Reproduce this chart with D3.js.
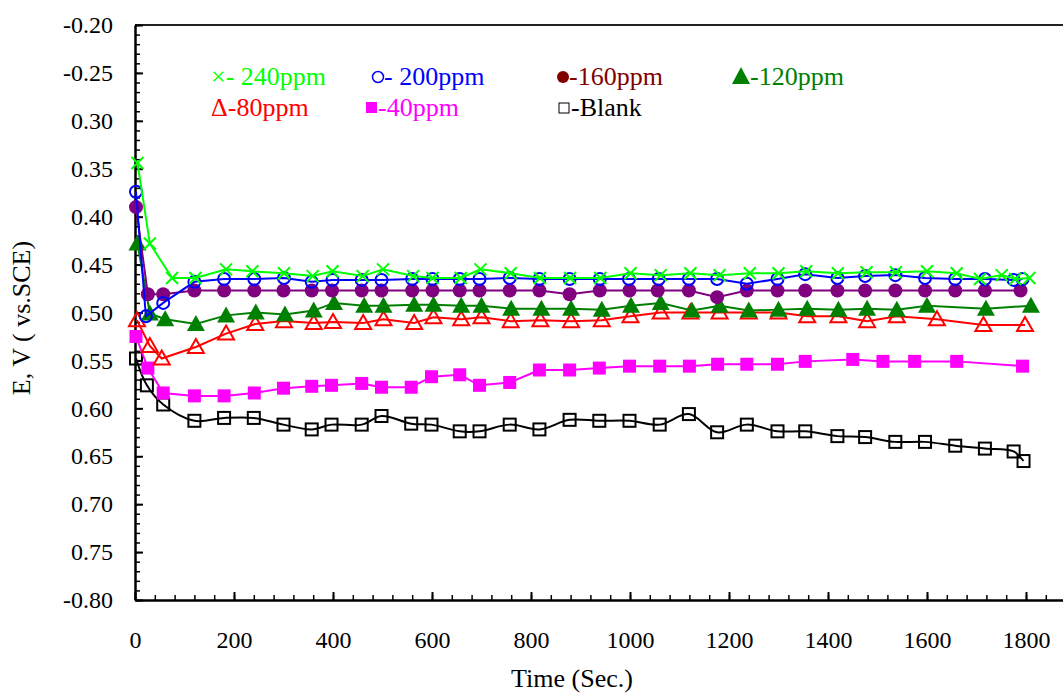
<!DOCTYPE html>
<html>
<head>
<meta charset="utf-8">
<script src="https://cdn.jsdelivr.net/npm/d3@7"></script>
<style>
  body { margin: 0; background: #fff; }
  svg text { font-family: "Liberation Serif", "Times New Roman", serif; }
</style>
</head>
<body>
<div id="chart"></div>
<script>

// ---- data (time in s, potential in V vs SCE) ----
const xTicks = [0, 200, 400, 600, 800, 1000, 1200, 1400, 1600, 1800];
const yTicks = [-0.20, -0.25, -0.30, -0.35, -0.40, -0.45, -0.50, -0.55, -0.60, -0.65, -0.70, -0.75, -0.80];
const yTickLabels = ["-0.20", "-0.25", "0.30", "0.35", "0.40", "0.45", "0.50", "0.55", "0.60", "0.65", "0.70", "0.75", "-0.80"];

const ppm240 = [[5,-0.344],[30,-0.428],[75,-0.464],[122,-0.464],[184,-0.455],[237,-0.457],[301,-0.459],[359,-0.462],[399,-0.457],[460,-0.462],[501,-0.455],[562,-0.462],[601,-0.464],[658,-0.464],[698,-0.455],[759,-0.459],[818,-0.464],[879,-0.464],[940,-0.464],[1001,-0.459],[1062,-0.461],[1122,-0.459],[1181,-0.461],[1242,-0.459],[1300,-0.459],[1356,-0.457],[1420,-0.459],[1478,-0.458],[1537,-0.458],[1600,-0.457],[1660,-0.459],[1707,-0.465],[1751,-0.461],[1778,-0.465],[1807,-0.464]];

const ppm200 = [[2,-0.374],[22,-0.504],[57,-0.490],[120,-0.468],[180,-0.465],[241,-0.465],[301,-0.464],[357,-0.468],[399,-0.466],[458,-0.466],[498,-0.466],[560,-0.465],[601,-0.465],[656,-0.465],[696,-0.465],[757,-0.464],[817,-0.465],[878,-0.465],[939,-0.465],[998,-0.465],[1058,-0.465],[1119,-0.465],[1176,-0.465],[1236,-0.470],[1298,-0.465],[1354,-0.460],[1419,-0.464],[1475,-0.462],[1536,-0.461],[1596,-0.464],[1657,-0.465],[1717,-0.465],[1775,-0.466],[1793,-0.465]];

const ppm160 = [[2,-0.390],[26,-0.481],[57,-0.481],[120,-0.477],[180,-0.477],[241,-0.477],[300,-0.477],[357,-0.477],[398,-0.477],[458,-0.477],[498,-0.477],[560,-0.477],[601,-0.477],[656,-0.477],[696,-0.477],[757,-0.477],[817,-0.477],[878,-0.481],[939,-0.477],[999,-0.477],[1056,-0.477],[1119,-0.477],[1176,-0.484],[1236,-0.477],[1298,-0.477],[1354,-0.477],[1419,-0.477],[1475,-0.477],[1536,-0.477],[1596,-0.477],[1657,-0.477],[1717,-0.477],[1789,-0.477]];

const ppm120 = [[5,-0.428],[30,-0.501],[61,-0.507],[123,-0.512],[184,-0.503],[244,-0.500],[303,-0.502],[361,-0.498],[402,-0.490],[463,-0.493],[502,-0.493],[564,-0.492],[603,-0.492],[659,-0.493],[700,-0.493],[760,-0.496],[821,-0.496],[881,-0.496],[943,-0.497],[1002,-0.493],[1062,-0.490],[1125,-0.498],[1181,-0.493],[1240,-0.498],[1300,-0.497],[1358,-0.496],[1421,-0.497],[1479,-0.496],[1539,-0.497],[1600,-0.493],[1719,-0.496],[1810,-0.493]];

const ppm80 = [[4,-0.508],[30,-0.535],[54,-0.548],[123,-0.536],[184,-0.522],[243,-0.512],[301,-0.509],[361,-0.511],[400,-0.510],[461,-0.511],[502,-0.507],[564,-0.511],[603,-0.505],[659,-0.507],[700,-0.505],[759,-0.509],[819,-0.508],[881,-0.509],[943,-0.508],[1001,-0.504],[1062,-0.500],[1122,-0.500],[1181,-0.500],[1240,-0.500],[1300,-0.500],[1358,-0.504],[1421,-0.504],[1479,-0.509],[1539,-0.504],[1620,-0.507],[1714,-0.513],[1798,-0.513]];

const ppm40 = [[2,-0.525],[26,-0.558],[57,-0.584],[120,-0.587],[180,-0.587],[241,-0.584],[300,-0.579],[357,-0.577],[397,-0.576],[458,-0.574],[498,-0.578],[558,-0.578],[599,-0.567],[656,-0.565],[696,-0.576],[757,-0.573],[817,-0.560],[878,-0.560],[938,-0.558],[999,-0.556],[1060,-0.556],[1120,-0.556],[1177,-0.554],[1236,-0.554],[1298,-0.554],[1354,-0.551],[1450,-0.549],[1511,-0.551],[1575,-0.551],[1660,-0.551],[1793,-0.556]];

const blank = [[2,-0.548],[24,-0.576],[57,-0.596],[120,-0.613],[180,-0.610],[240,-0.610],[300,-0.617],[357,-0.622],[397,-0.617],[458,-0.617],[498,-0.608],[558,-0.616],[599,-0.617],[656,-0.624],[696,-0.624],[757,-0.617],[817,-0.622],[878,-0.612],[938,-0.613],[999,-0.613],[1060,-0.617],[1119,-0.606],[1176,-0.625],[1236,-0.617],[1298,-0.624],[1354,-0.624],[1419,-0.629],[1475,-0.630],[1536,-0.635],[1596,-0.635],[1657,-0.639],[1717,-0.642],[1775,-0.645],[1795,-0.655]];

// drawing order: blank at the back, 240ppm on top
const series = [
	{ data: blank,  color: "#000000", marker: "squareOpen", smooth: true },
	{ data: ppm40,  color: "#ff00ff", marker: "square" },
	{ data: ppm80,  color: "#ff0000", marker: "triangleOpen" },
	{ data: ppm120, color: "#008000", marker: "triangle" },
	{ data: ppm160, color: "#800080", marker: "circle" },
	{ data: ppm200, color: "#0000ff", marker: "circleOpen" },
	{ data: ppm240, color: "#00ff00", marker: "cross" }
];

const serif = "'Liberation Serif', 'Times New Roman', serif";
const width = 1063;
const height = 694;

const svg = d3.select("#chart").append("svg")
	.attr("width", width)
	.attr("height", height);

const x = d3.scaleLinear().domain([0, 2000]).range([135, 135 + 2000 * 0.495]);
const y = d3.scaleLinear().domain([-0.80, -0.20]).range([600, 25]);

// top border
svg.append("line")
	.attr("x1", 135).attr("x2", width)
	.attr("y1", y(-0.20)).attr("y2", y(-0.20))
	.attr("stroke", "#222").attr("stroke-width", 2);

// minor ticks
svg.append("g")
	.attr("transform", "translate(135,0)")
	.call(d3.axisLeft(y).tickValues(d3.range(-0.80, -0.195, 0.01)).tickSize(-5).tickSizeOuter(0).tickFormat(""))
	.call(g => g.select(".domain").remove())
	.call(g => g.selectAll("line").attr("stroke-width", 1.5));

svg.append("g")
	.attr("transform", "translate(0,600)")
	.call(d3.axisBottom(x).tickValues(d3.range(0, 2001, 40)).tickSize(-5).tickSizeOuter(0).tickFormat(""))
	.call(g => g.select(".domain").remove())
	.call(g => g.selectAll("line").attr("stroke-width", 1.5));

// major axes
const yAxis = svg.append("g")
	.attr("transform", "translate(135,0)")
	.call(d3.axisLeft(y).tickValues(yTicks).tickSize(-8).tickSizeOuter(0).tickPadding(22)
		.tickFormat((d, i) => yTickLabels[i]));

const xAxis = svg.append("g")
	.attr("transform", "translate(0,600)")
	.call(d3.axisBottom(x).tickValues(xTicks).tickSize(-8).tickSizeOuter(0).tickPadding(31)
		.tickFormat(d3.format("d")));

[yAxis, xAxis].forEach(g => {
	g.attr("font-family", serif).attr("font-size", 24);
	g.select(".domain").attr("stroke-width", 2.5);
	g.selectAll(".tick line").attr("stroke-width", 2);
	g.selectAll("text").attr("font-family", serif).attr("font-size", 24).attr("fill", "#000");
});

// axis titles
svg.append("text")
	.attr("transform", "translate(30,318) rotate(-90)")
	.attr("text-anchor", "middle")
	.attr("font-family", serif)
	.attr("font-size", 26)
	.text("E, V ( vs.SCE)");

svg.append("text")
	.attr("x", 572).attr("y", 687)
	.attr("text-anchor", "middle")
	.attr("font-family", serif)
	.attr("font-size", 26)
	.text("Time (Sec.)");

// marker shapes
function drawMarker(sel, type, color) {
	if (type === "cross") {
		sel.append("path").attr("d", "M-6,-6L6,6M-6,6L6,-6")
			.attr("stroke", color).attr("stroke-width", 2).attr("fill", "none");
	} else if (type === "circleOpen") {
		sel.append("circle").attr("r", 6)
			.attr("stroke", color).attr("stroke-width", 2).attr("fill", "none");
	} else if (type === "circle") {
		sel.append("circle").attr("r", 7).attr("fill", color);
	} else if (type === "triangle") {
		sel.append("path").attr("d", "M0,-9L9,7L-9,7Z").attr("fill", color);
	} else if (type === "triangleOpen") {
		sel.append("path").attr("d", "M0,-8L8,6L-8,6Z")
			.attr("stroke", color).attr("stroke-width", 2).attr("fill", "none");
	} else if (type === "square") {
		sel.append("rect").attr("x", -6.5).attr("y", -6.5).attr("width", 13).attr("height", 13)
			.attr("fill", color);
	} else if (type === "squareOpen") {
		sel.append("rect").attr("x", -6).attr("y", -6).attr("width", 12).attr("height", 12)
			.attr("stroke", color).attr("stroke-width", 2).attr("fill", "none");
	}
}

series.forEach(s => {
	const line = d3.line()
		.x(d => x(d[0]))
		.y(d => y(d[1]))
		.curve(s.smooth ? d3.curveCatmullRom.alpha(0.5) : d3.curveLinear);

	svg.append("path")
		.datum(s.data)
		.attr("d", line)
		.attr("fill", "none")
		.attr("stroke", s.color)
		.attr("stroke-width", 2);

	svg.append("g").selectAll("g")
		.data(s.data)
		.enter()
			.append("g")
				.attr("transform", d => `translate(${x(d[0])},${y(d[1])})`)
				.each(function() { drawMarker(d3.select(this), s.marker, s.color); });
});

// legend (glyph labels as in the original)
const legend = svg.append("g").attr("font-size", 26).attr("font-family", serif);

legend.append("text").attr("x", 211).attr("y", 85).attr("fill", "#00ff00").text("\u00d7- 240ppm");

legend.append("circle").attr("cx", 378).attr("cy", 77).attr("r", 5.5)
	.attr("fill", "none").attr("stroke", "#0000ff").attr("stroke-width", 1.5);
legend.append("text").attr("x", 384).attr("y", 85).attr("fill", "#0000ff").text("- 200ppm");

legend.append("circle").attr("cx", 563).attr("cy", 77).attr("r", 6).attr("fill", "#800000");
legend.append("text").attr("x", 569).attr("y", 85).attr("fill", "#800000").text("-160ppm");

legend.append("path").attr("d", "M741,67L750,84L732,84Z").attr("fill", "#008000");
legend.append("text").attr("x", 750).attr("y", 85).attr("fill", "#008000").text("-120ppm");

legend.append("text").attr("x", 211).attr("y", 116).attr("fill", "#ff0000").text("\u0394-80ppm");

legend.append("rect").attr("x", 366).attr("y", 102).attr("width", 11).attr("height", 11).attr("fill", "#ff00ff");
legend.append("text").attr("x", 378).attr("y", 116).attr("fill", "#ff00ff").text("-40ppm");

legend.append("rect").attr("x", 559).attr("y", 103).attr("width", 10).attr("height", 10)
	.attr("fill", "none").attr("stroke", "#000").attr("stroke-width", 1);
legend.append("text").attr("x", 571).attr("y", 116).attr("fill", "#000").text("-Blank");

</script>
</body>
</html>
